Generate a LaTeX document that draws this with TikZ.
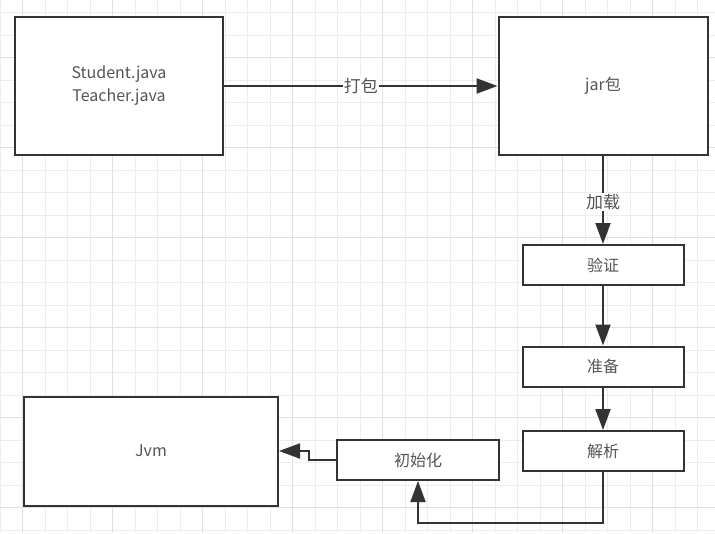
\documentclass[tikz,border=0pt]{standalone}
\usepackage{fontspec}
\setmainfont{Noto Sans CJK SC}
\usetikzlibrary{arrows.meta}
\definecolor{txt}{HTML}{555555}
\definecolor{ln}{HTML}{333333}
\definecolor{gridminor}{HTML}{EDEDED}
\definecolor{gridmajor}{HTML}{E0E0E0}
\tikzset{
  box/.style={draw=ln, line width=2pt, fill=white, rectangle, inner sep=0pt,
    font=\fontsize{16}{23}\selectfont, text=txt, align=center},
  conn/.style={draw=ln, line width=2pt, -{Triangle[length=21pt,width=15pt]}},
  lbl/.style={fill=white, inner sep=1pt, font=\fontsize{17}{20}\selectfont, text=txt}
}
\begin{document}
\begin{tikzpicture}[x=1pt,y=-1pt]
\useasboundingbox (0,0) rectangle (715,533);
\fill[white] (0,0) rectangle (715,533);
% grid
\foreach \i in {0,...,31} {
  \draw[gridminor, line width=1pt] ({22.5*\i},0) -- ({22.5*\i},533);
}
\foreach \j in {0,...,23} {
  \draw[gridminor, line width=1pt] (0,{12.5+22.5*\j}) -- (715,{12.5+22.5*\j});
}
\foreach \i in {0,...,7} {
  \draw[gridmajor, line width=1pt] ({22.5+90*\i},0) -- ({22.5+90*\i},533);
}
\foreach \j in {0,...,5} {
  \draw[gridmajor, line width=1pt] (0,{57.5+90*\j}) -- (715,{57.5+90*\j});
}
% nodes
\node[box, minimum width=208pt, minimum height=138pt] (src) at (119,86) {Student.java\\Teacher.java};
\node[box, minimum width=209pt, minimum height=138pt] (jar) at (603,86) {jar包};
\node[box, minimum width=161pt, minimum height=40pt] (verify) at (603,265) {验证};
\node[box, minimum width=161pt, minimum height=40pt] (prep) at (603,366.5) {准备};
\node[box, minimum width=161pt, minimum height=40pt] (resolve) at (603,451) {解析};
\node[box, minimum width=162pt, minimum height=40pt] (init) at (418,460) {初始化};
\node[box, minimum width=254pt, minimum height=109pt] (jvm) at (151,451) {Jvm};
\coordinate (c1) at (603,523);
\coordinate (c2) at (309,460);
% connectors
\draw[conn] (src.east) -- node[lbl] {打包} (jar.west);
\draw[conn] (jar.south) -- node[lbl, pos=0.52] {加载} (verify.north);
\draw[conn] (verify.south) -- (prep.north);
\draw[conn] (prep.south) -- (resolve.north);
\draw[conn] (resolve.south) -- (c1) -| (init.south);
\draw[conn] (init.west) -- (c2) |- (jvm.east);
\end{tikzpicture}
\end{document}
